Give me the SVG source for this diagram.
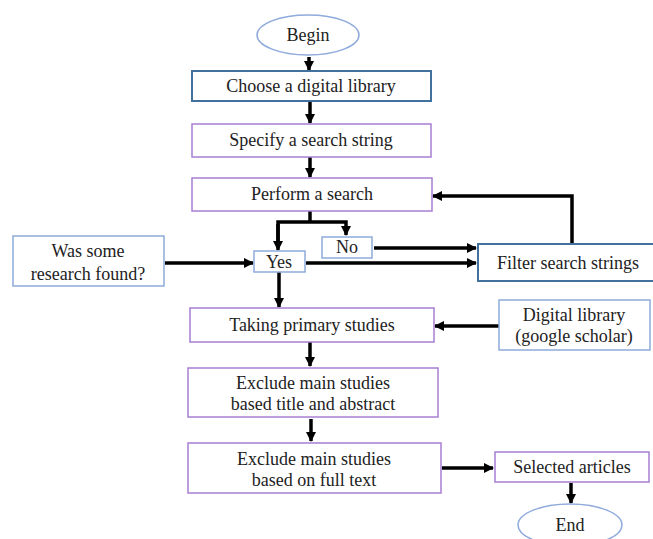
<svg xmlns="http://www.w3.org/2000/svg" width="653" height="539" viewBox="0 0 653 539">
<style>
  text { font-family: "Liberation Serif", "Times New Roman", serif; font-size: 18px; fill: #222; text-anchor: middle; }
  .purple { fill: #fff; stroke: #A77FD3; stroke-width: 1.5; }
  .lblue { fill: #fff; stroke: #8FAADC; stroke-width: 1.5; }
  .dblue { fill: #fff; stroke: #41719C; stroke-width: 2; }
  .conn { fill: none; stroke: #000; stroke-width: 3.5; }
</style>
<defs>
  <marker id="ah" markerUnits="userSpaceOnUse" markerWidth="10" markerHeight="10" viewBox="0 0 10 10" refX="9" refY="5" orient="auto">
    <path d="M0,0 L10,5 L0,10 Z" fill="#000"/>
  </marker>
</defs>
<rect width="653" height="539" fill="#fff"/>
<g id="connectors">
  <line class="conn" x1="309" y1="57" x2="309" y2="70" marker-end="url(#ah)"/>
  <line class="conn" x1="310" y1="102" x2="310" y2="123" marker-end="url(#ah)"/>
  <line class="conn" x1="310" y1="157" x2="310" y2="177" marker-end="url(#ah)"/>
  <polyline class="conn" points="310,211 310,222"/>
  <polyline class="conn" points="278,247 278,222 346,222 346,235" marker-end="url(#ah)"/>
  <line class="conn" x1="278" y1="224" x2="278" y2="250" marker-end="url(#ah)"/>
  <line class="conn" x1="374" y1="248" x2="476" y2="248" marker-end="url(#ah)"/>
  <line class="conn" x1="306" y1="263" x2="476" y2="263" marker-end="url(#ah)"/>
  <line class="conn" x1="165" y1="263" x2="253" y2="263" marker-end="url(#ah)"/>
  <polyline class="conn" points="572,243 572,196 433,196" marker-end="url(#ah)"/>
  <line class="conn" x1="279" y1="272" x2="279" y2="307" marker-end="url(#ah)"/>
  <line class="conn" x1="499" y1="326" x2="435" y2="326" marker-end="url(#ah)"/>
  <line class="conn" x1="310" y1="342" x2="310" y2="366" marker-end="url(#ah)"/>
  <line class="conn" x1="311" y1="419" x2="311" y2="441" marker-end="url(#ah)"/>
  <line class="conn" x1="442" y1="468" x2="493" y2="468" marker-end="url(#ah)"/>
  <line class="conn" x1="571" y1="483" x2="571" y2="503" marker-end="url(#ah)"/>
</g>
<g id="begin"><ellipse class="lblue" cx="308" cy="35" rx="51" ry="20"/><text x="308" y="41">Begin</text></g>
<g id="choose"><rect class="dblue" x="192" y="71" width="239" height="30"/><text x="311" y="92">Choose a digital library</text></g>
<g id="specify"><rect class="purple" x="192" y="124" width="239" height="33"/><text x="311" y="146">Specify a search string</text></g>
<g id="perform"><rect class="purple" x="192" y="178" width="240" height="33"/><text x="312" y="200">Perform a search</text></g>
<g id="no"><rect class="lblue" x="322" y="237" width="50" height="21"/><text x="347" y="253">No</text></g>
<g id="yes"><rect class="lblue" x="254" y="251" width="51" height="21"/><text x="279" y="268">Yes</text></g>
<g id="was"><rect class="lblue" x="13" y="236" width="151" height="50"/><text x="88" y="257">Was some</text><text x="88" y="280">research found?</text></g>
<g id="filter"><rect class="dblue" x="478" y="244" width="180" height="37"/><text x="568" y="269">Filter search strings</text></g>
<g id="taking"><rect class="purple" x="190" y="308" width="244" height="34"/><text x="312" y="331">Taking primary studies</text></g>
<g id="digital"><rect class="lblue" x="499" y="300" width="151" height="50"/><text x="574" y="321">Digital library</text><text x="574" y="342">(google scholar)</text></g>
<g id="exclude1"><rect class="purple" x="188" y="368" width="250" height="49"/><text x="313" y="389">Exclude main studies</text><text x="313" y="410">based title and abstract</text></g>
<g id="exclude2"><rect class="purple" x="188" y="443" width="253" height="50"/><text x="314" y="465">Exclude main studies</text><text x="314" y="486">based on full text</text></g>
<g id="selected"><rect class="purple" x="495" y="452" width="154" height="30"/><text x="572" y="473">Selected articles</text></g>
<g id="end"><ellipse class="lblue" cx="570" cy="525" rx="52" ry="21"/><text x="570" y="531">End</text></g>
</svg>
